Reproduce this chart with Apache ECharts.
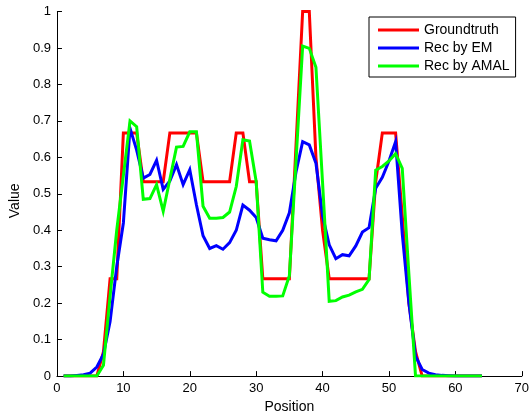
<!DOCTYPE html>
<html>
<head>
<meta charset="utf-8">
<script src="https://cdn.jsdelivr.net/npm/echarts@6/dist/echarts.min.js"></script>
<style>
html,body{margin:0;padding:0;background:#fff;}
#chart{width:532px;height:419px;}
</style>
</head>
<body>
<div id="chart"></div>
<script>
const positions = [1,2,3,4,5,6,7,8,9,10,11,12,13,14,15,16,17,18,19,20,21,22,23,24,25,26,27,28,29,30,31,32,33,34,35,36,37,38,39,40,41,42,43,44,45,46,47,48,49,50,51,52,53,54,55,56,57,58,59,60,61,62,63,64];
const groundtruth = [0,0,0,0,0,0,0.067,0.267,0.267,0.667,0.667,0.667,0.533,0.533,0.533,0.533,0.667,0.667,0.667,0.667,0.667,0.533,0.533,0.533,0.533,0.533,0.667,0.667,0.533,0.533,0.267,0.267,0.267,0.267,0.267,0.633,1,1,0.6,0.4,0.267,0.267,0.267,0.267,0.267,0.267,0.267,0.533,0.667,0.667,0.667,0.44,0.2,0.067,0,0,0,0,0,0,0,0,0,0];
const recEM = [0,0,0.002,0.004,0.008,0.025,0.06,0.15,0.30,0.42,0.68,0.62,0.543,0.553,0.592,0.512,0.535,0.58,0.525,0.566,0.47,0.385,0.35,0.358,0.348,0.366,0.40,0.469,0.455,0.435,0.378,0.374,0.371,0.40,0.448,0.56,0.643,0.634,0.584,0.44,0.36,0.322,0.333,0.33,0.357,0.395,0.407,0.515,0.545,0.59,0.643,0.39,0.2,0.055,0.018,0.008,0.004,0.002,0.001,0,0,0,0,0];
const recAMAL = [0,0,0,0,0,0,0.03,0.22,0.40,0.55,0.70,0.684,0.485,0.487,0.525,0.452,0.54,0.628,0.63,0.67,0.67,0.466,0.433,0.433,0.435,0.45,0.52,0.648,0.645,0.534,0.23,0.219,0.219,0.22,0.275,0.59,0.905,0.899,0.847,0.53,0.205,0.207,0.217,0.222,0.231,0.238,0.265,0.565,0.575,0.59,0.61,0.57,0.28,0,0,0,0,0,0,0,0,0,0,0];
const seriesNames = ['Groundtruth','Rec by EM','Rec by AMAL'];
const seriesColors = ['#ff0000','#0000ff','#00ff00'];
const xTicks = {min:0, max:70, step:10};
const yTicks = {min:0, max:1, step:0.1};

const font = '"Liberation Sans", Arial, Helvetica, sans-serif';
const chart = echarts.init(document.getElementById('chart'), null, {renderer:'canvas'});
const pair = arr => positions.map((p,i)=>[p, arr[i]]);
const allData = [groundtruth, recEM, recAMAL];
chart.setOption({
  animation:false,
  backgroundColor:'#fff',
  grid:{left:56.5, right:7.5, top:11.5, bottom:39, containLabel:false},
  legend:{
    orient:'vertical', left:369, top:17,
    padding:[6,6,4,9], itemGap:4, itemWidth:41, itemHeight:3,
    icon:'rect',
    borderColor:'#000', borderWidth:1, backgroundColor:'#fff',
    textStyle:{fontFamily:font, fontSize:14, lineHeight:14, color:'#000'},
    data:seriesNames
  },
  xAxis:{
    type:'value', min:xTicks.min, max:xTicks.max, interval:xTicks.step,
    name:'Position', nameLocation:'middle', nameGap:21,
    nameTextStyle:{fontFamily:font, fontSize:14, color:'#000'},
    axisLine:{show:true, onZero:false, lineStyle:{color:'#000', width:1}},
    axisTick:{show:true, inside:true, length:5, lineStyle:{color:'#000'}},
    axisLabel:{fontFamily:font, fontSize:13, color:'#000', margin:6},
    splitLine:{show:false}
  },
  yAxis:{
    type:'value', min:yTicks.min, max:yTicks.max, interval:yTicks.step,
    name:'Value', nameLocation:'middle', nameGap:34,
    nameTextStyle:{fontFamily:font, fontSize:14, color:'#000', padding:[0,0,0,-14]},
    axisLine:{show:true, onZero:false, lineStyle:{color:'#000', width:1}},
    axisTick:{show:true, inside:true, length:5, lineStyle:{color:'#000'}},
    axisLabel:{fontFamily:font, fontSize:13, color:'#000', margin:6,
      formatter:v=>String(Math.round(v*10)/10)},
    splitLine:{show:false}
  },
  series: seriesNames.map((n,i)=>({
    name:n, type:'line', data:pair(allData[i]),
    symbol:'none', showSymbol:false, smooth:false,
    lineStyle:{color:seriesColors[i], width:3, join:'miter'},
    itemStyle:{color:seriesColors[i]},
    z: 10 + i
  }))
});
</script>
</body>
</html>
